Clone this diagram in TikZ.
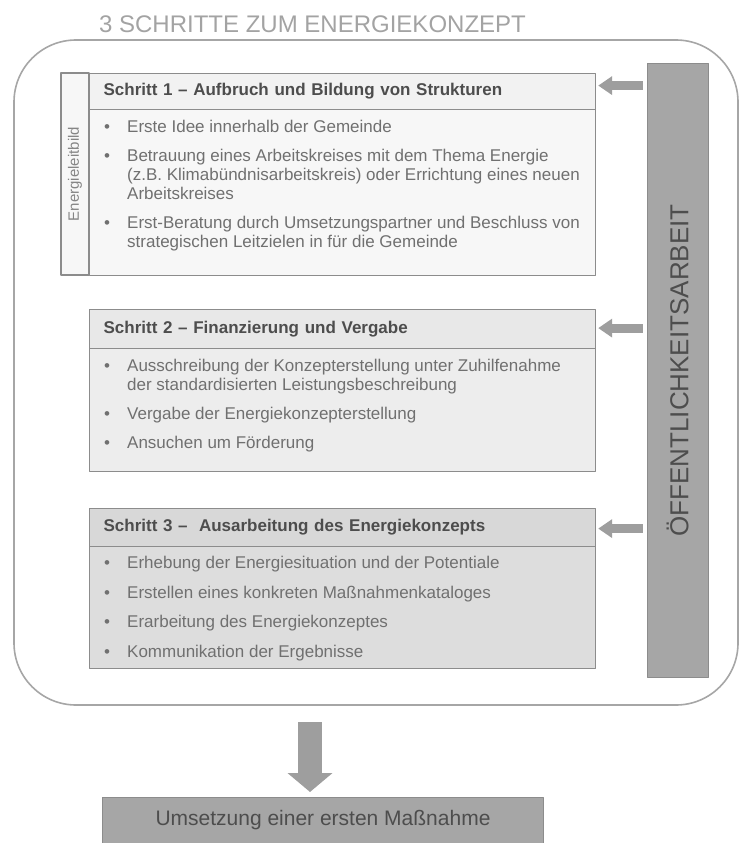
\documentclass[tikz,border=0pt]{standalone}
\usepackage{fontspec}
\setmainfont{Liberation Sans}
\usetikzlibrary{arrows.meta}
\definecolor{rahmengrau}{HTML}{A6A6A6}
\definecolor{linie}{HTML}{8C8C8C}
\definecolor{kopfeins}{HTML}{F2F2F2}
\definecolor{koerpereins}{HTML}{F7F7F7}
\definecolor{kopfzwei}{HTML}{E8E8E8}
\definecolor{koerperzwei}{HTML}{EDEDED}
\definecolor{kopfdrei}{HTML}{D8D8D8}
\definecolor{koerperdrei}{HTML}{DDDDDD}
\definecolor{balken}{HTML}{A6A6A6}
\definecolor{pfeil}{HTML}{9E9E9E}
\definecolor{textdunkel}{HTML}{4D4D4D}
\definecolor{texthell}{HTML}{707070}
\definecolor{titel}{HTML}{A3A3A3}
\newcommand{\listfont}{\fontsize{17}{19}\selectfont}

\begin{document}
\begin{tikzpicture}[x=1pt,y=-1pt,line join=round,
		kopf/.style={draw=linie,line width=1.2pt,anchor=north west,minimum width=506pt,text width=478pt,inner xsep=14pt,align=left,font=\listfont\bfseries,text=textdunkel},
		koerper/.style={draw=linie,line width=1.2pt,anchor=north west,minimum width=506pt},
		liste/.style={anchor=north west,inner sep=0pt,font=\listfont,text=texthell},
		seitenpfeil/.style={draw=pfeil,line width=9pt,-{Triangle[length=14pt,width=18pt]},shorten <=4pt,shorten >=2pt},
		abwaerts/.style={draw=pfeil,line width=24pt,-{Triangle[length=19pt,width=44pt]},shorten >=5pt},
	]
	\useasboundingbox (0,0) rectangle (741,843);
	% titel und rahmen
	\node[anchor=base,font=\fontsize{24}{28}\selectfont,text=titel] (titel) at (312.5,33) {3 SCHRITTE ZUM ENERGIEKONZEPT};
	\node[draw=rahmengrau,line width=1.6pt,fill=white,rounded corners=62pt,minimum width=724pt,minimum height=665pt] (rahmen) at (376,372.5) {};
	% schritt 1
	\node[draw=linie,line width=1.2pt,fill=koerpereins,rotate=90,minimum width=202pt,minimum height=28pt,inner sep=0pt,font=\fontsize{15}{17}\selectfont,text=texthell!85] (leitbild) at (75,174) {Energieleitbild};
	\node[kopf,fill=kopfeins,minimum height=36pt] (s1head) at (89,73) {Schritt 1 -- Aufbruch und Bildung von Strukturen};
	\node[koerper,fill=koerpereins,minimum height=166pt] (s1body) at (89,109) {};
	\node[liste] (s1list) at ([shift={(15pt,-10pt)}]s1body.north west) {%
		\begin{tabular}{@{}p{23pt}@{}l@{}}
			\textbullet & Erste Idee innerhalb der Gemeinde\\[10pt]
			\textbullet & Betrauung eines Arbeitskreises mit dem Thema Energie\\
			& (z.B. Klimabündnisarbeitskreis) oder Errichtung eines neuen\\
			& Arbeitskreises\\[10pt]
			\textbullet & Erst-Beratung durch Umsetzungspartner und Beschluss von\\
			& strategischen Leitzielen in für die Gemeinde
		\end{tabular}};
	% schritt 2
	\node[kopf,fill=kopfzwei,minimum height=39pt] (s2head) at (89,309) {Schritt 2 -- Finanzierung und Vergabe};
	\node[koerper,fill=koerperzwei,minimum height=123pt] (s2body) at (89,348) {};
	\node[liste] (s2list) at ([shift={(15pt,-10pt)}]s2body.north west) {%
		\begin{tabular}{@{}p{23pt}@{}l@{}}
			\textbullet & Ausschreibung der Konzepterstellung unter Zuhilfenahme\\
			& der standardisierten Leistungsbeschreibung\\[10pt]
			\textbullet & Vergabe der Energiekonzepterstellung\\[10pt]
			\textbullet & Ansuchen um Förderung
		\end{tabular}};
	% schritt 3
	\node[kopf,fill=kopfdrei,minimum height=38pt] (s3head) at (89,508) {Schritt 3 --\ \ Ausarbeitung des Energiekonzepts};
	\node[koerper,fill=koerperdrei,minimum height=122pt] (s3body) at (89,546) {};
	\node[liste] (s3list) at ([shift={(15pt,-9pt)}]s3body.north west) {%
		\begin{tabular}{@{}p{23pt}@{}l@{}}
			\textbullet & Erhebung der Energiesituation und der Potentiale\\[10.5pt]
			\textbullet & Erstellen eines konkreten Maßnahmenkataloges\\[10.5pt]
			\textbullet & Erarbeitung des Energiekonzeptes\\[10.5pt]
			\textbullet & Kommunikation der Ergebnisse
		\end{tabular}};
	% oeffentlichkeitsarbeit
	\node[draw=linie,line width=1pt,fill=balken,rotate=90,minimum width=613pt,minimum height=61pt,inner sep=0pt,font=\fontsize{26}{30}\selectfont,text=textdunkel] (oeff) at (677.5,370.5) {ÖFFENTLICHKEITSARBEIT};
	\foreach \s/\d in {s1head/6,s2head/1,s3head/-1}
	\draw[seitenpfeil] ([yshift=\d pt]oeff.north |- \s.east) -- ([yshift=\d pt]\s.east);
	% ergebnis
	\node[draw=linie,line width=1pt,fill=balken,anchor=north west,minimum width=441pt,minimum height=46pt,font=\fontsize{21}{25}\selectfont,text=textdunkel] (ergebnis) at (102,797) {Umsetzung einer ersten Maßnahme};
	\coordinate (pfeilstart) at (310,722);
	\draw[abwaerts] (pfeilstart) -- (pfeilstart |- ergebnis.north);
\end{tikzpicture}
\end{document}
